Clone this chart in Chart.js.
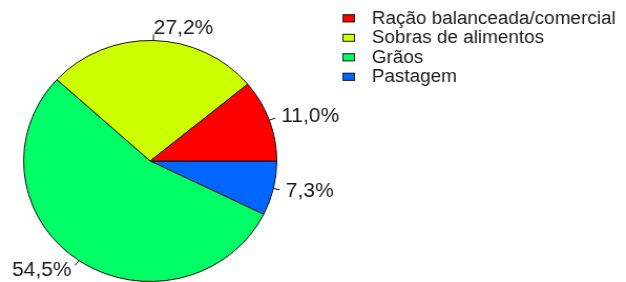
<!DOCTYPE html>
<html><head><meta charset="utf-8">
<script src="https://cdn.jsdelivr.net/npm/chart.js@4"></script>
<style>
html,body{margin:0;padding:0;background:#fff;overflow:hidden}
#c{transform:scaleX(1.0503);transform-origin:0 0;display:block}
</style>
</head><body>
<canvas id="c" width="596" height="282"></canvas>
<script>
// Data (legend order, counter-clockwise from 3 o'clock in the reference)
const categories = ["Ração balanceada/comercial", "Sobras de alimentos", "Grãos", "Pastagem"];
const shares = [11.0, 27.2, 54.5, 7.3];
const valueLabels = ["11,0%", "27,2%", "54,5%", "7,3%"];

// Styles
const sliceColors = ["#FF0000", "#CCFF00", "#00FF66", "#0066FF"];
const FONT = "'Liberation Sans', Arial, sans-serif";

// Chart.js draws clockwise; the reference runs counter-clockwise, so reverse.
const chartLabels = categories.slice().reverse();
const chartData = shares.slice().reverse();
const chartColors = sliceColors.slice().reverse();
const chartValueLabels = valueLabels.slice().reverse();

const sliceLabels = {
  id: 'sliceLabels',
  afterDatasetsDraw(chart) {
    const ctx = chart.ctx;
    const meta = chart.getDatasetMeta(0);
    ctx.save();
    ctx.strokeStyle = '#111';
    ctx.lineWidth = 1;
    ctx.fillStyle = '#1a1a1a';
    ctx.font = '20px ' + FONT;
    ctx.textBaseline = 'middle';
    meta.data.forEach((arc, i) => {
      const p = arc.getProps(['x', 'y', 'startAngle', 'endAngle', 'outerRadius'], true);
      const mid = (p.startAngle + p.endAngle) / 2;
      const c = Math.cos(mid), s = Math.sin(mid);
      const r = p.outerRadius;
      ctx.beginPath();
      ctx.moveTo(p.x + c * r, p.y + s * r);
      ctx.lineTo(p.x + c * r * 1.05, p.y + s * r * 1.05);
      ctx.stroke();
      ctx.textAlign = c < 0 ? 'right' : 'left';
      ctx.fillText(chartValueLabels[i], p.x + c * r * 1.1, p.y + s * r * 1.1);
    });
    ctx.restore();
  }
};

const customLegend = {
  id: 'customLegend',
  afterDraw(chart) {
    const ctx = chart.ctx;
    ctx.save();
    ctx.font = '18px ' + FONT;
    ctx.textBaseline = 'middle';
    ctx.textAlign = 'left';
    const x0 = 326, y0 = 18.3, step = 19.5;
    categories.forEach((name, i) => {
      const y = y0 + i * step;
      ctx.fillStyle = sliceColors[i];
      ctx.fillRect(x0, y - 4, 12, 8);
      ctx.strokeStyle = '#222';
      ctx.lineWidth = 1;
      ctx.strokeRect(x0 + 0.5, y - 3.5, 11, 7);
      ctx.fillStyle = '#1a1a1a';
      ctx.fillText(name, 354, y + 0.5);
    });
    ctx.restore();
  }
};

new Chart(document.getElementById('c'), {
  type: 'pie',
  data: {
    labels: chartLabels,
    datasets: [{
      data: chartData,
      backgroundColor: chartColors,
      borderColor: '#111',
      borderWidth: 1
    }]
  },
  options: {
    responsive: false,
    animation: false,
    rotation: 90,
    layout: { padding: { left: 22, right: 332, top: 40, bottom: 0 } },
    plugins: { legend: { display: false }, tooltip: { enabled: false } }
  },
  plugins: [sliceLabels, customLegend]
});
</script>
</body></html>
